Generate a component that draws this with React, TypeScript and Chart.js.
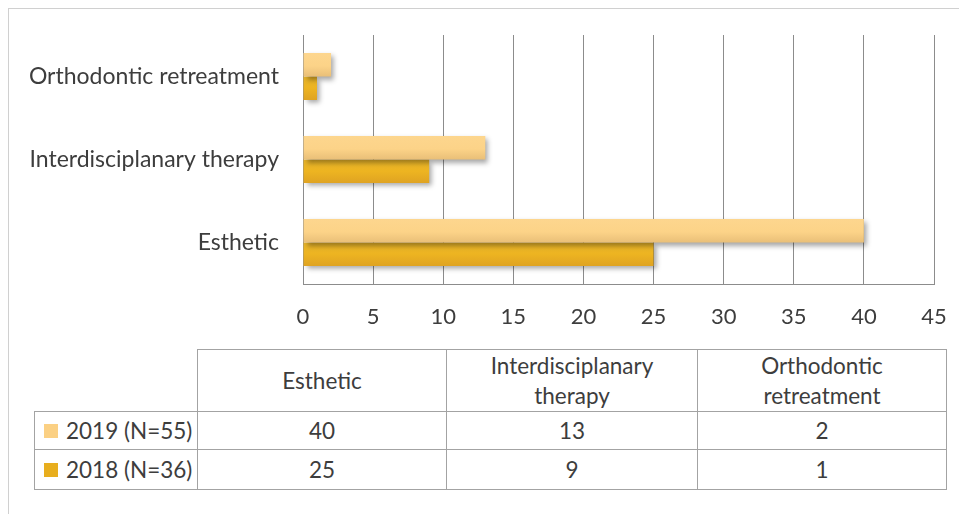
import React, { useEffect, useRef } from "react";
import { Chart, registerables } from "chart.js";

Chart.register(...registerables);

const categories = ["Esthetic", "Interdisciplanary therapy", "Orthodontic retreatment"];
const headerLines = [["Esthetic"], ["Interdisciplanary", "therapy"], ["Orthodontic", "retreatment"]];
const seriesNames = ["2019 (N=55)", "2018 (N=36)"];
const values2019 = [40, 13, 2];
const values2018 = [25, 9, 1];
const xMin = 0;
const xMax = 45;
const xStep = 5;

const FONT = "Lato, 'Open Sans', sans-serif";
const TEXT = "#3d3d3d";
const GRID = "#8c8c8c";
const TABLE_BORDER = "#a3a3a3";
const SWATCH = ["#FBD083", "#E8AE1E"];
const CAT_PCT = 0.566;

function gradFor(c: any) {
  const chart = c.chart;
  const ds = c.datasetIndex;
  if (c.type !== "data" || !chart.chartArea) return SWATCH[ds] || SWATCH[0];
  const y = chart.scales.y;
  const center = y.getPixelForValue(c.dataIndex);
  const band = Math.abs(y.getPixelForValue(1) - y.getPixelForValue(0));
  const t = (band * CAT_PCT) / 2;
  const top = ds === 0 ? center - t : center;
  const g = chart.ctx.createLinearGradient(0, top, 0, top + t);
  if (ds === 0) {
    g.addColorStop(0, "#FDD68E");
    g.addColorStop(0.55, "#FCD388");
    g.addColorStop(1, "#E9BF78");
  } else {
    g.addColorStop(0, "#E9B52A");
    g.addColorStop(0.5, "#EDB421");
    g.addColorStop(1, "#DFA322");
  }
  return g;
}

const shadowPlugin = {
  id: "barShadow",
  beforeDatasetsDraw(chart: any) {
    const ctx = chart.ctx;
    ctx.save();
    ctx.shadowColor = "rgba(0,0,0,0.35)";
    ctx.shadowBlur = 5;
    ctx.shadowOffsetX = 3;
    ctx.shadowOffsetY = 3;
  },
  afterDatasetsDraw(chart: any) {
    chart.ctx.restore();
  },
};

export default function App() {
  const ref = useRef<HTMLCanvasElement | null>(null);

  useEffect(() => {
    document.body.style.margin = "0";
    const canvas = ref.current;
    if (!canvas) return;
    const labels = [...categories].reverse();
    const chart = new Chart(canvas, {
      type: "bar",
      data: {
        labels,
        datasets: [
          {
            label: seriesNames[0],
            data: [...values2019].reverse(),
            backgroundColor: gradFor as any,
            borderWidth: 0,
            categoryPercentage: CAT_PCT,
            barPercentage: 1,
          },
          {
            label: seriesNames[1],
            data: [...values2018].reverse(),
            backgroundColor: gradFor as any,
            borderWidth: 0,
            categoryPercentage: CAT_PCT,
            barPercentage: 1,
          },
        ],
      },
      options: {
        indexAxis: "y",
        animation: false,
        responsive: false,
        maintainAspectRatio: false,
        layout: { padding: { left: 0, right: 25, top: 35, bottom: 0 } },
        plugins: { legend: { display: false }, tooltip: { enabled: false } },
        scales: {
          x: {
            min: xMin,
            max: xMax,
            ticks: { stepSize: xStep, color: TEXT, font: { family: FONT, size: 22 }, padding: 20 },
            grid: { color: GRID, drawTicks: false, lineWidth: 1 },
            border: { display: true, color: GRID },
            afterFit: (s: any) => {
              s.height = 56;
              s.paddingRight = 0;
              s.paddingLeft = 0;
            },
          },
          y: {
            ticks: { color: TEXT, font: { family: FONT, size: 23 }, padding: 24 },
            grid: { display: false, drawTicks: false },
            border: { display: true, color: GRID },
            afterFit: (s: any) => {
              s.width = 303;
              s.paddingTop = 0;
              s.paddingBottom = 0;
            },
          },
        },
      },
      plugins: [shadowPlugin],
    });
    return () => chart.destroy();
  }, []);

  const cols = [197, 446, 697, 946];
  const legendX = 34;
  const rows = [349, 411, 449, 489];
  const cells: any[] = [];
  const cellStyle = (x0: number, y0: number, x1: number, y1: number): React.CSSProperties => ({
    position: "absolute",
    left: x0,
    top: y0,
    width: x1 - x0 + 1,
    height: y1 - y0 + 1,
    boxSizing: "border-box",
    border: `1px solid ${TABLE_BORDER}`,
    display: "flex",
    alignItems: "center",
    justifyContent: "center",
    textAlign: "center",
  });
  headerLines.forEach((lines, i) => {
    cells.push(
      <div key={"h" + i} style={{ ...cellStyle(cols[i], rows[0], cols[i + 1], rows[1]), lineHeight: "30px", flexDirection: "column" }}>
        {lines.map((l, k) => (
          <div key={k}>{l}</div>
        ))}
      </div>
    );
  });
  const seriesVals = [values2019, values2018];
  seriesNames.forEach((name, r) => {
    cells.push(
      <div key={"l" + r} style={{ ...cellStyle(legendX, rows[r + 1], cols[0], rows[r + 2]), justifyContent: "flex-start", paddingLeft: 9 }}>
        <span style={{ display: "inline-block", width: 14, height: 14, background: SWATCH[r], marginRight: 8 }} />
        <span>{name}</span>
      </div>
    );
    seriesVals[r].forEach((v, i) => {
      cells.push(
        <div key={"c" + r + "_" + i} style={cellStyle(cols[i], rows[r + 1], cols[i + 1], rows[r + 2])}>
          {v}
        </div>
      );
    });
  });

  return (
    <div style={{ position: "relative", width: 959, height: 514, overflow: "hidden", background: "#fff", fontFamily: FONT, fontSize: 22.5, color: TEXT }}>
      <div style={{ position: "absolute", left: 8, top: 8, width: 1200, height: 800, border: "1px solid #d0d0d0" }} />
      <canvas ref={ref} width={959} height={340} style={{ position: "absolute", left: 0, top: 0, width: 959, height: 340 }} />
      {cells}
    </div>
  );
}
